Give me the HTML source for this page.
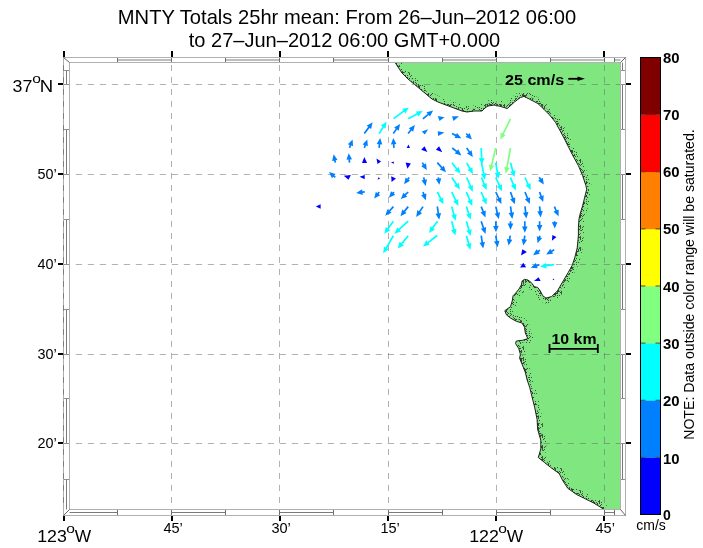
<!DOCTYPE html>
<html><head><meta charset="utf-8"><style>
html,body{margin:0;padding:0;background:#fff;width:703px;height:548px;overflow:hidden}
svg{display:block;will-change:transform}
</style></head><body>
<svg width="703" height="548" viewBox="0 0 703 548">
<defs><pattern id="d1" width="17" height="13" patternUnits="userSpaceOnUse"><rect x="1" y="0" width="1" height="1" fill="#3c3c3c"/><rect x="3" y="0" width="1" height="1" fill="#3c3c3c"/><rect x="6" y="0" width="1" height="1" fill="#3c3c3c"/><rect x="8" y="0" width="1" height="1" fill="#3c3c3c"/><rect x="10" y="0" width="1" height="1" fill="#3c3c3c"/><rect x="11" y="0" width="1" height="1" fill="#3c3c3c"/><rect x="14" y="0" width="1" height="1" fill="#3c3c3c"/><rect x="4" y="1" width="1" height="1" fill="#3c3c3c"/><rect x="7" y="1" width="1" height="1" fill="#3c3c3c"/><rect x="8" y="1" width="1" height="1" fill="#3c3c3c"/><rect x="11" y="1" width="1" height="1" fill="#3c3c3c"/><rect x="16" y="1" width="1" height="1" fill="#3c3c3c"/><rect x="0" y="2" width="1" height="1" fill="#3c3c3c"/><rect x="0" y="3" width="1" height="1" fill="#3c3c3c"/><rect x="3" y="3" width="1" height="1" fill="#3c3c3c"/><rect x="5" y="3" width="1" height="1" fill="#3c3c3c"/><rect x="2" y="4" width="1" height="1" fill="#3c3c3c"/><rect x="10" y="4" width="1" height="1" fill="#3c3c3c"/><rect x="12" y="4" width="1" height="1" fill="#3c3c3c"/><rect x="13" y="4" width="1" height="1" fill="#3c3c3c"/><rect x="14" y="4" width="1" height="1" fill="#3c3c3c"/><rect x="16" y="4" width="1" height="1" fill="#3c3c3c"/><rect x="3" y="5" width="1" height="1" fill="#3c3c3c"/><rect x="14" y="5" width="1" height="1" fill="#3c3c3c"/><rect x="15" y="5" width="1" height="1" fill="#3c3c3c"/><rect x="4" y="6" width="1" height="1" fill="#3c3c3c"/><rect x="13" y="6" width="1" height="1" fill="#3c3c3c"/><rect x="3" y="7" width="1" height="1" fill="#3c3c3c"/><rect x="5" y="7" width="1" height="1" fill="#3c3c3c"/><rect x="6" y="7" width="1" height="1" fill="#3c3c3c"/><rect x="8" y="7" width="1" height="1" fill="#3c3c3c"/><rect x="10" y="7" width="1" height="1" fill="#3c3c3c"/><rect x="11" y="7" width="1" height="1" fill="#3c3c3c"/><rect x="12" y="7" width="1" height="1" fill="#3c3c3c"/><rect x="13" y="7" width="1" height="1" fill="#3c3c3c"/><rect x="15" y="7" width="1" height="1" fill="#3c3c3c"/><rect x="1" y="8" width="1" height="1" fill="#3c3c3c"/><rect x="5" y="8" width="1" height="1" fill="#3c3c3c"/><rect x="10" y="8" width="1" height="1" fill="#3c3c3c"/><rect x="11" y="8" width="1" height="1" fill="#3c3c3c"/><rect x="15" y="8" width="1" height="1" fill="#3c3c3c"/><rect x="16" y="8" width="1" height="1" fill="#3c3c3c"/><rect x="2" y="9" width="1" height="1" fill="#3c3c3c"/><rect x="4" y="9" width="1" height="1" fill="#3c3c3c"/><rect x="11" y="9" width="1" height="1" fill="#3c3c3c"/><rect x="9" y="10" width="1" height="1" fill="#3c3c3c"/><rect x="10" y="10" width="1" height="1" fill="#3c3c3c"/><rect x="5" y="11" width="1" height="1" fill="#3c3c3c"/><rect x="13" y="11" width="1" height="1" fill="#3c3c3c"/><rect x="2" y="12" width="1" height="1" fill="#3c3c3c"/><rect x="11" y="12" width="1" height="1" fill="#3c3c3c"/><rect x="12" y="12" width="1" height="1" fill="#3c3c3c"/><rect x="13" y="12" width="1" height="1" fill="#3c3c3c"/><rect x="16" y="12" width="1" height="1" fill="#3c3c3c"/></pattern><pattern id="d2" width="19" height="11" patternUnits="userSpaceOnUse"><rect x="6" y="0" width="1" height="1" fill="#4a4a4a"/><rect x="13" y="1" width="1" height="1" fill="#4a4a4a"/><rect x="16" y="1" width="1" height="1" fill="#4a4a4a"/><rect x="7" y="2" width="1" height="1" fill="#4a4a4a"/><rect x="16" y="3" width="1" height="1" fill="#4a4a4a"/><rect x="18" y="3" width="1" height="1" fill="#4a4a4a"/><rect x="3" y="5" width="1" height="1" fill="#4a4a4a"/><rect x="6" y="5" width="1" height="1" fill="#4a4a4a"/><rect x="10" y="5" width="1" height="1" fill="#4a4a4a"/><rect x="14" y="5" width="1" height="1" fill="#4a4a4a"/><rect x="16" y="5" width="1" height="1" fill="#4a4a4a"/><rect x="9" y="6" width="1" height="1" fill="#4a4a4a"/><rect x="10" y="6" width="1" height="1" fill="#4a4a4a"/><rect x="13" y="6" width="1" height="1" fill="#4a4a4a"/><rect x="17" y="6" width="1" height="1" fill="#4a4a4a"/><rect x="0" y="7" width="1" height="1" fill="#4a4a4a"/><rect x="10" y="7" width="1" height="1" fill="#4a4a4a"/><rect x="12" y="7" width="1" height="1" fill="#4a4a4a"/><rect x="2" y="8" width="1" height="1" fill="#4a4a4a"/><rect x="4" y="8" width="1" height="1" fill="#4a4a4a"/><rect x="10" y="8" width="1" height="1" fill="#4a4a4a"/><rect x="6" y="9" width="1" height="1" fill="#4a4a4a"/><rect x="8" y="9" width="1" height="1" fill="#4a4a4a"/><rect x="12" y="9" width="1" height="1" fill="#4a4a4a"/><rect x="11" y="10" width="1" height="1" fill="#4a4a4a"/><rect x="17" y="10" width="1" height="1" fill="#4a4a4a"/></pattern><clipPath id="landclip"><polygon points="395.0,62.5 395.0,62.4 398.0,67.0 402.0,73.0 408.0,79.0 414.0,84.0 420.0,89.0 426.0,94.0 432.0,99.0 438.0,102.0 446.0,105.0 454.0,108.0 462.0,111.0 467.0,112.0 474.0,111.0 482.0,111.0 485.0,108.0 488.0,106.0 494.0,105.0 500.0,106.3 507.3,108.5 514.6,101.9 520.4,97.5 524.0,96.4 529.2,99.0 538.0,103.6 543.8,109.2 549.6,115.0 555.5,122.3 559.9,130.4 564.2,138.4 568.6,147.2 573.0,155.9 578.4,165.6 582.6,175.5 585.8,185.3 586.7,189.4 585.0,196.0 582.6,205.8 580.1,214.0 579.0,219.0 578.4,227.2 578.4,235.0 578.0,239.9 577.2,248.0 574.7,257.9 572.2,265.3 568.1,272.7 563.2,280.9 557.5,290.8 551.7,296.5 546.0,298.1 542.7,295.7 540.2,290.8 537.8,287.5 534.5,286.7 531.2,282.5 527.9,280.0 524.6,279.3 522.2,280.9 521.3,285.0 518.9,289.1 515.6,293.2 513.1,295.7 512.3,300.6 510.5,306.6 504.8,310.7 506.4,314.8 510.5,318.1 516.3,321.3 522.0,323.0 524.5,327.1 525.3,332.8 527.8,338.6 522.8,340.2 516.3,341.0 515.5,343.5 518.7,348.4 520.4,354.2 519.6,358.3 522.0,364.0 525.3,372.3 527.2,380.0 529.7,387.4 532.1,397.2 534.6,407.1 537.1,419.4 537.6,429.2 540.8,440.3 540.8,448.9 538.3,457.5 544.4,462.4 550.6,467.4 559.2,473.5 562.9,480.9 567.8,488.3 576.4,494.4 583.8,498.1 593.7,503.0 601.0,507.5 603.5,509.5 620.5,509.5 620.5,62.5"/></clipPath></defs>
<rect width="703" height="548" fill="#fff"/>
<polygon points="395.0,62.5 395.0,62.4 398.0,67.0 402.0,73.0 408.0,79.0 414.0,84.0 420.0,89.0 426.0,94.0 432.0,99.0 438.0,102.0 446.0,105.0 454.0,108.0 462.0,111.0 467.0,112.0 474.0,111.0 482.0,111.0 485.0,108.0 488.0,106.0 494.0,105.0 500.0,106.3 507.3,108.5 514.6,101.9 520.4,97.5 524.0,96.4 529.2,99.0 538.0,103.6 543.8,109.2 549.6,115.0 555.5,122.3 559.9,130.4 564.2,138.4 568.6,147.2 573.0,155.9 578.4,165.6 582.6,175.5 585.8,185.3 586.7,189.4 585.0,196.0 582.6,205.8 580.1,214.0 579.0,219.0 578.4,227.2 578.4,235.0 578.0,239.9 577.2,248.0 574.7,257.9 572.2,265.3 568.1,272.7 563.2,280.9 557.5,290.8 551.7,296.5 546.0,298.1 542.7,295.7 540.2,290.8 537.8,287.5 534.5,286.7 531.2,282.5 527.9,280.0 524.6,279.3 522.2,280.9 521.3,285.0 518.9,289.1 515.6,293.2 513.1,295.7 512.3,300.6 510.5,306.6 504.8,310.7 506.4,314.8 510.5,318.1 516.3,321.3 522.0,323.0 524.5,327.1 525.3,332.8 527.8,338.6 522.8,340.2 516.3,341.0 515.5,343.5 518.7,348.4 520.4,354.2 519.6,358.3 522.0,364.0 525.3,372.3 527.2,380.0 529.7,387.4 532.1,397.2 534.6,407.1 537.1,419.4 537.6,429.2 540.8,440.3 540.8,448.9 538.3,457.5 544.4,462.4 550.6,467.4 559.2,473.5 562.9,480.9 567.8,488.3 576.4,494.4 583.8,498.1 593.7,503.0 601.0,507.5 603.5,509.5 620.5,509.5 620.5,62.5" fill="#80e680" stroke="none"/>
<g clip-path="url(#landclip)"><polyline points="395.0,62.4 398.0,67.0 402.0,73.0 408.0,79.0 414.0,84.0 420.0,89.0 426.0,94.0 432.0,99.0 438.0,102.0 446.0,105.0 454.0,108.0 462.0,111.0 467.0,112.0 474.0,111.0 482.0,111.0 485.0,108.0 488.0,106.0 494.0,105.0 500.0,106.3 507.3,108.5 514.6,101.9 520.4,97.5 524.0,96.4 529.2,99.0 538.0,103.6 543.8,109.2 549.6,115.0 555.5,122.3 559.9,130.4 564.2,138.4 568.6,147.2 573.0,155.9 578.4,165.6 582.6,175.5 585.8,185.3 586.7,189.4 585.0,196.0 582.6,205.8 580.1,214.0 579.0,219.0 578.4,227.2 578.4,235.0 578.0,239.9 577.2,248.0 574.7,257.9 572.2,265.3 568.1,272.7 563.2,280.9 557.5,290.8 551.7,296.5 546.0,298.1 542.7,295.7 540.2,290.8 537.8,287.5 534.5,286.7 531.2,282.5 527.9,280.0 524.6,279.3 522.2,280.9 521.3,285.0 518.9,289.1 515.6,293.2 513.1,295.7 512.3,300.6 510.5,306.6 504.8,310.7 506.4,314.8 510.5,318.1 516.3,321.3 522.0,323.0 524.5,327.1 525.3,332.8 527.8,338.6 522.8,340.2 516.3,341.0 515.5,343.5 518.7,348.4 520.4,354.2 519.6,358.3 522.0,364.0 525.3,372.3 527.2,380.0 529.7,387.4 532.1,397.2 534.6,407.1 537.1,419.4 537.6,429.2 540.8,440.3 540.8,448.9 538.3,457.5 544.4,462.4 550.6,467.4 559.2,473.5 562.9,480.9 567.8,488.3 576.4,494.4 583.8,498.1 593.7,503.0 601.0,507.5 603.5,509.5" fill="none" stroke="url(#d2)" stroke-width="11" stroke-linejoin="round"/>
<polyline points="395.0,62.4 398.0,67.0 402.0,73.0 408.0,79.0 414.0,84.0 420.0,89.0 426.0,94.0 432.0,99.0 438.0,102.0 446.0,105.0 454.0,108.0 462.0,111.0 467.0,112.0 474.0,111.0 482.0,111.0 485.0,108.0 488.0,106.0 494.0,105.0 500.0,106.3 507.3,108.5 514.6,101.9 520.4,97.5 524.0,96.4 529.2,99.0 538.0,103.6 543.8,109.2 549.6,115.0 555.5,122.3 559.9,130.4 564.2,138.4 568.6,147.2 573.0,155.9 578.4,165.6 582.6,175.5 585.8,185.3 586.7,189.4 585.0,196.0 582.6,205.8 580.1,214.0 579.0,219.0 578.4,227.2 578.4,235.0 578.0,239.9 577.2,248.0 574.7,257.9 572.2,265.3 568.1,272.7 563.2,280.9 557.5,290.8 551.7,296.5 546.0,298.1 542.7,295.7 540.2,290.8 537.8,287.5 534.5,286.7 531.2,282.5 527.9,280.0 524.6,279.3 522.2,280.9 521.3,285.0 518.9,289.1 515.6,293.2 513.1,295.7 512.3,300.6 510.5,306.6 504.8,310.7 506.4,314.8 510.5,318.1 516.3,321.3 522.0,323.0 524.5,327.1 525.3,332.8 527.8,338.6 522.8,340.2 516.3,341.0 515.5,343.5 518.7,348.4 520.4,354.2 519.6,358.3 522.0,364.0 525.3,372.3 527.2,380.0 529.7,387.4 532.1,397.2 534.6,407.1 537.1,419.4 537.6,429.2 540.8,440.3 540.8,448.9 538.3,457.5 544.4,462.4 550.6,467.4 559.2,473.5 562.9,480.9 567.8,488.3 576.4,494.4 583.8,498.1 593.7,503.0 601.0,507.5 603.5,509.5" fill="none" stroke="url(#d1)" stroke-width="4.5" stroke-linejoin="round"/></g>
<polyline points="395.0,62.4 398.0,67.0 402.0,73.0 408.0,79.0 414.0,84.0 420.0,89.0 426.0,94.0 432.0,99.0 438.0,102.0 446.0,105.0 454.0,108.0 462.0,111.0 467.0,112.0 474.0,111.0 482.0,111.0 485.0,108.0 488.0,106.0 494.0,105.0 500.0,106.3 507.3,108.5 514.6,101.9 520.4,97.5 524.0,96.4 529.2,99.0 538.0,103.6 543.8,109.2 549.6,115.0 555.5,122.3 559.9,130.4 564.2,138.4 568.6,147.2 573.0,155.9 578.4,165.6 582.6,175.5 585.8,185.3 586.7,189.4 585.0,196.0 582.6,205.8 580.1,214.0 579.0,219.0 578.4,227.2 578.4,235.0 578.0,239.9 577.2,248.0 574.7,257.9 572.2,265.3 568.1,272.7 563.2,280.9 557.5,290.8 551.7,296.5 546.0,298.1 542.7,295.7 540.2,290.8 537.8,287.5 534.5,286.7 531.2,282.5 527.9,280.0 524.6,279.3 522.2,280.9 521.3,285.0 518.9,289.1 515.6,293.2 513.1,295.7 512.3,300.6 510.5,306.6 504.8,310.7 506.4,314.8 510.5,318.1 516.3,321.3 522.0,323.0 524.5,327.1 525.3,332.8 527.8,338.6 522.8,340.2 516.3,341.0 515.5,343.5 518.7,348.4 520.4,354.2 519.6,358.3 522.0,364.0 525.3,372.3 527.2,380.0 529.7,387.4 532.1,397.2 534.6,407.1 537.1,419.4 537.6,429.2 540.8,440.3 540.8,448.9 538.3,457.5 544.4,462.4 550.6,467.4 559.2,473.5 562.9,480.9 567.8,488.3 576.4,494.4 583.8,498.1 593.7,503.0 601.0,507.5 603.5,509.5" fill="none" stroke="#222" stroke-width="1" stroke-linejoin="round"/>
<line x1="171.5" y1="63.0" x2="171.5" y2="509.0" stroke="#666" stroke-opacity="0.5" stroke-width="1" stroke-dasharray="6.1 5.9" stroke-dashoffset="-1.90"/>
<line x1="279.5" y1="63.0" x2="279.5" y2="509.0" stroke="#666" stroke-opacity="0.5" stroke-width="1" stroke-dasharray="6.1 5.9" stroke-dashoffset="-1.90"/>
<line x1="388.5" y1="63.0" x2="388.5" y2="509.0" stroke="#666" stroke-opacity="0.5" stroke-width="1" stroke-dasharray="6.1 5.9" stroke-dashoffset="-1.90"/>
<line x1="496.5" y1="63.0" x2="496.5" y2="509.0" stroke="#666" stroke-opacity="0.5" stroke-width="1" stroke-dasharray="6.1 5.9" stroke-dashoffset="-1.90"/>
<line x1="604.5" y1="63.0" x2="604.5" y2="509.0" stroke="#666" stroke-opacity="0.5" stroke-width="1" stroke-dasharray="6.1 5.9" stroke-dashoffset="-1.90"/>
<line x1="70.0" y1="84.5" x2="620.0" y2="84.5" stroke="#666" stroke-opacity="0.5" stroke-width="1" stroke-dasharray="6.2 5.8" stroke-dashoffset="-5.80"/>
<line x1="70.0" y1="174.5" x2="620.0" y2="174.5" stroke="#666" stroke-opacity="0.5" stroke-width="1" stroke-dasharray="6.2 5.8" stroke-dashoffset="-5.80"/>
<line x1="70.0" y1="264.5" x2="620.0" y2="264.5" stroke="#666" stroke-opacity="0.5" stroke-width="1" stroke-dasharray="6.2 5.8" stroke-dashoffset="-5.80"/>
<line x1="70.0" y1="354.5" x2="620.0" y2="354.5" stroke="#666" stroke-opacity="0.5" stroke-width="1" stroke-dasharray="6.2 5.8" stroke-dashoffset="-5.80"/>
<line x1="70.0" y1="443.5" x2="620.0" y2="443.5" stroke="#666" stroke-opacity="0.5" stroke-width="1" stroke-dasharray="6.2 5.8" stroke-dashoffset="-5.80"/>
<path d="M394.21 119.28L404.25 111.84L405.41 113.40L408.80 107.40L402.07 108.90L403.23 110.47L393.19 117.92Z" fill="#00ffff"/>
<path d="M408.60 119.55L417.53 114.81L418.45 116.53L422.70 111.10L415.82 111.58L416.74 113.30L407.80 118.05Z" fill="#00ffff"/>
<path d="M423.44 119.55L428.80 115.09L430.05 116.58L433.10 110.40L426.47 112.28L427.72 113.78L422.36 118.25Z" fill="#0080ff"/>
<path d="M509.74 118.52L502.32 133.57L500.57 132.71L500.30 139.60L505.60 135.19L503.85 134.32L511.26 119.28Z" fill="#80ff80"/>
<path d="M364.99 134.10L369.56 127.88L371.13 129.04L372.60 122.30L366.61 125.72L368.19 126.87L363.61 133.10Z" fill="#0080ff"/>
<path d="M379.82 134.15L383.92 127.51L385.58 128.53L386.50 121.70L380.81 125.59L382.47 126.62L378.38 133.25Z" fill="#00ffff"/>
<path d="M393.99 133.99L397.12 129.62L398.71 130.75L400.10 124.00L394.16 127.49L395.74 128.63L392.61 133.01Z" fill="#0080ff"/>
<path d="M408.76 134.03L411.60 130.53L413.11 131.76L414.90 125.10L408.76 128.23L410.28 129.46L407.44 132.97Z" fill="#0080ff"/>
<path d="M451.62 134.26L455.38 136.14L454.51 137.89L461.40 138.20L457.02 132.88L456.15 134.62L452.38 132.74Z" fill="#0080ff"/>
<path d="M465.58 134.08L466.98 135.58L465.55 136.91L471.90 139.60L469.64 133.09L468.22 134.42L466.82 132.92Z" fill="#0080ff"/>
<path d="M350.30 148.19L351.24 145.61L353.07 146.28L352.60 139.40L347.81 144.36L349.64 145.03L348.70 147.61Z" fill="#0080ff"/>
<path d="M365.10 148.18L366.00 145.62L367.84 146.27L367.30 139.40L362.56 144.41L364.40 145.06L363.50 147.62Z" fill="#0080ff"/>
<path d="M379.94 147.99L380.35 144.36L382.29 144.57L380.20 138.00L376.72 143.95L378.66 144.17L378.26 147.81Z" fill="#0080ff"/>
<path d="M394.75 147.85L394.53 144.24L396.48 144.12L393.30 138.00L390.89 144.46L392.83 144.34L393.05 147.95Z" fill="#0080ff"/>
<path d="M451.76 148.66L455.98 152.08L454.75 153.60L461.40 155.40L458.28 149.25L457.05 150.77L452.84 147.34Z" fill="#0080ff"/>
<path d="M465.99 148.47L468.59 152.34L466.97 153.43L472.80 157.10L471.62 150.31L470.00 151.39L467.41 147.53Z" fill="#0080ff"/>
<path d="M480.35 148.04L480.78 158.24L478.84 158.32L481.90 164.50L484.43 158.09L482.48 158.17L482.05 147.96Z" fill="#00ffff"/>
<path d="M494.87 147.80L490.75 164.98L488.85 164.52L490.10 171.30L494.29 165.83L492.40 165.37L496.53 148.20Z" fill="#80ff80"/>
<path d="M509.66 147.85L506.10 167.25L504.18 166.90L505.80 173.60L509.69 167.91L507.77 167.56L511.34 148.15Z" fill="#80ff80"/>
<path d="M336.13 162.43L335.70 160.30L337.61 159.91L333.60 154.30L332.12 161.03L334.03 160.64L334.47 162.77Z" fill="#0080ff"/>
<path d="M350.35 162.53L350.08 159.41L352.02 159.24L348.70 153.20L346.44 159.71L348.39 159.55L348.65 162.67Z" fill="#0080ff"/>
<path d="M421.58 163.05L422.85 165.10L421.20 166.13L426.90 170.00L425.95 163.17L424.30 164.20L423.02 162.15Z" fill="#0080ff"/>
<path d="M436.67 163.17L441.16 168.18L439.71 169.48L446.00 172.30L443.88 165.74L442.43 167.04L437.93 162.03Z" fill="#0080ff"/>
<path d="M451.24 163.33L455.91 169.20L454.39 170.42L460.50 173.60L458.77 166.93L457.24 168.14L452.56 162.27Z" fill="#00ffff"/>
<path d="M465.96 163.21L469.19 169.01L467.49 169.96L473.00 174.10L472.38 167.23L470.67 168.18L467.44 162.39Z" fill="#00ffff"/>
<path d="M480.67 162.76L482.84 173.78L480.93 174.16L484.90 179.80L486.43 173.08L484.51 173.45L482.33 162.44Z" fill="#00ffff"/>
<path d="M494.86 162.95L496.63 172.65L494.72 173.00L498.60 178.70L500.22 172.00L498.31 172.35L496.54 162.65Z" fill="#00ffff"/>
<path d="M509.68 163.03L511.97 171.17L510.10 171.70L514.50 177.00L515.49 170.18L513.61 170.71L511.32 162.57Z" fill="#00ffff"/>
<path d="M335.85 176.75L334.34 175.45L335.61 173.97L329.00 172.00L331.96 178.23L333.23 176.75L334.75 178.05Z" fill="#0080ff"/>
<path d="M408.52 176.89L407.20 178.65L405.64 177.48L404.10 184.20L410.12 180.84L408.56 179.67L409.88 177.91Z" fill="#0080ff"/>
<path d="M422.87 177.59L423.45 180.06L421.55 180.50L425.70 186.00L427.00 179.23L425.10 179.67L424.53 177.21Z" fill="#0080ff"/>
<path d="M437.46 177.52L437.63 178.69L435.70 178.98L439.40 184.80L441.24 178.16L439.31 178.44L439.14 177.28Z" fill="#0080ff"/>
<path d="M451.19 177.97L455.70 184.73L454.08 185.81L459.90 189.50L458.74 182.70L457.11 183.79L452.61 177.03Z" fill="#00ffff"/>
<path d="M465.92 177.83L469.55 186.34L467.75 187.10L472.80 191.80L472.90 184.91L471.11 185.67L467.48 177.17Z" fill="#00ffff"/>
<path d="M480.71 177.82L483.43 184.49L481.63 185.22L486.60 190.00L486.81 183.11L485.01 183.85L482.29 177.18Z" fill="#00ffff"/>
<path d="M494.93 177.86L498.60 185.83L496.82 186.65L502.00 191.20L501.91 184.31L500.14 185.12L496.47 177.14Z" fill="#00ffff"/>
<path d="M509.71 177.82L512.65 185.08L510.84 185.81L515.80 190.60L516.03 183.71L514.23 184.44L511.29 177.18Z" fill="#00ffff"/>
<path d="M524.23 177.85L527.31 184.62L525.54 185.43L530.70 190.00L530.63 183.11L528.86 183.92L525.77 177.15Z" fill="#00ffff"/>
<path d="M538.48 177.75L539.72 179.72L538.07 180.76L543.80 184.60L542.81 177.78L541.16 178.82L539.92 176.85Z" fill="#0080ff"/>
<path d="M364.69 190.96L362.34 191.26L362.09 189.32L356.20 192.90L362.80 194.88L362.56 192.94L364.91 192.64Z" fill="#0080ff"/>
<path d="M378.52 191.49L377.33 193.07L375.77 191.89L374.20 198.60L380.24 195.27L378.68 194.09L379.88 192.51Z" fill="#0080ff"/>
<path d="M393.37 191.43L392.47 192.44L391.01 191.14L388.90 197.70L395.19 194.87L393.73 193.57L394.63 192.57Z" fill="#0080ff"/>
<path d="M407.61 191.39L404.76 194.12L403.41 192.72L400.80 199.10L407.28 196.76L405.93 195.35L408.79 192.61Z" fill="#0080ff"/>
<path d="M422.19 192.27L422.98 194.60L421.13 195.23L425.80 200.30L426.44 193.44L424.59 194.06L423.81 191.73Z" fill="#0080ff"/>
<path d="M436.64 192.38L439.94 199.03L438.19 199.90L443.50 204.30L443.21 197.41L441.46 198.28L438.16 191.62Z" fill="#00ffff"/>
<path d="M451.03 192.36L454.94 200.66L453.18 201.50L458.40 206.00L458.25 199.11L456.48 199.94L452.57 191.64Z" fill="#00ffff"/>
<path d="M465.62 192.33L469.07 200.52L467.27 201.28L472.30 206.00L472.43 199.11L470.64 199.86L467.18 191.67Z" fill="#00ffff"/>
<path d="M480.42 192.34L483.40 199.17L481.61 199.95L486.70 204.60L486.75 197.71L484.96 198.49L481.98 191.66Z" fill="#00ffff"/>
<path d="M495.03 192.36L497.98 198.74L496.21 199.56L501.40 204.10L501.29 197.21L499.53 198.03L496.57 191.64Z" fill="#0080ff"/>
<path d="M509.70 192.28L511.92 198.63L510.08 199.28L514.80 204.30L515.36 197.43L513.52 198.07L511.30 191.72Z" fill="#0080ff"/>
<path d="M524.21 192.31L526.69 198.56L524.87 199.28L529.80 204.10L530.08 197.21L528.27 197.93L525.79 191.69Z" fill="#0080ff"/>
<path d="M538.80 192.29L540.28 196.45L538.45 197.11L543.20 202.10L543.72 195.23L541.89 195.88L540.40 191.71Z" fill="#0080ff"/>
<path d="M392.77 206.03L388.85 210.43L387.40 209.13L385.30 215.70L391.58 212.86L390.12 211.56L394.03 207.17Z" fill="#0080ff"/>
<path d="M407.53 206.07L403.75 210.84L402.22 209.62L400.50 216.30L406.61 213.11L405.08 211.89L408.87 207.13Z" fill="#0080ff"/>
<path d="M422.29 206.13L418.96 211.17L417.33 210.10L416.20 216.90L422.01 213.19L420.38 212.11L423.71 207.07Z" fill="#0080ff"/>
<path d="M436.46 206.62L437.46 213.59L435.53 213.86L439.20 219.70L441.07 213.07L439.14 213.34L438.14 206.38Z" fill="#0080ff"/>
<path d="M450.98 206.82L453.15 214.93L451.27 215.44L455.60 220.80L456.68 213.99L454.79 214.49L452.62 206.38Z" fill="#00ffff"/>
<path d="M465.59 206.87L467.93 213.98L466.07 214.59L470.70 219.70L471.40 212.84L469.54 213.45L467.21 206.33Z" fill="#00ffff"/>
<path d="M480.41 206.91L482.38 211.86L480.57 212.58L485.50 217.40L485.77 210.51L483.96 211.23L481.99 206.29Z" fill="#0080ff"/>
<path d="M494.97 206.80L496.50 213.17L494.61 213.63L498.80 219.10L500.05 212.32L498.16 212.78L496.63 206.40Z" fill="#0080ff"/>
<path d="M509.66 206.52L510.56 212.79L508.63 213.06L512.30 218.90L514.17 212.27L512.24 212.54L511.34 206.28Z" fill="#0080ff"/>
<path d="M524.16 206.50L524.84 212.44L522.90 212.66L526.40 218.60L528.46 212.02L526.53 212.24L525.84 206.30Z" fill="#0080ff"/>
<path d="M538.75 206.48L539.23 211.22L537.29 211.41L540.70 217.40L542.86 210.85L540.92 211.05L540.45 206.32Z" fill="#0080ff"/>
<path d="M553.62 206.94L555.32 210.86L553.53 211.63L558.60 216.30L558.67 209.41L556.88 210.18L555.18 206.26Z" fill="#0080ff"/>
<path d="M392.71 220.70L387.32 228.11L385.74 226.96L384.30 233.70L390.27 230.25L388.70 229.11L394.09 221.70Z" fill="#00ffff"/>
<path d="M407.63 220.57L398.50 228.84L397.19 227.40L394.40 233.70L400.95 231.55L399.64 230.10L408.77 221.83Z" fill="#00ffff"/>
<path d="M436.81 220.70L432.02 227.30L430.44 226.16L429.00 232.90L434.97 229.45L433.39 228.30L438.19 221.70Z" fill="#00ffff"/>
<path d="M450.97 221.40L452.99 229.68L451.09 230.14L455.30 235.60L456.53 228.82L454.64 229.28L452.63 221.00Z" fill="#00ffff"/>
<path d="M465.58 221.44L468.13 230.19L466.25 230.73L470.70 236.00L471.63 229.17L469.76 229.71L467.22 220.96Z" fill="#00ffff"/>
<path d="M480.39 221.47L482.67 228.21L480.83 228.83L485.50 233.90L486.13 227.03L484.28 227.66L482.01 220.93Z" fill="#0080ff"/>
<path d="M494.95 221.22L495.04 225.92L493.09 225.95L496.00 232.20L498.69 225.85L496.74 225.89L496.65 221.18Z" fill="#0080ff"/>
<path d="M509.65 221.20L509.65 223.60L507.70 223.60L510.50 229.90L513.30 223.60L511.35 223.60L511.35 221.20Z" fill="#0080ff"/>
<path d="M523.95 221.20L523.95 226.50L522.00 226.50L524.80 232.80L527.60 226.50L525.65 226.50L525.65 221.20Z" fill="#0080ff"/>
<path d="M538.75 221.20L538.75 225.10L536.80 225.10L539.60 231.40L542.40 225.10L540.45 225.10L540.45 221.20Z" fill="#0080ff"/>
<path d="M553.75 221.22L553.78 222.23L551.83 222.28L554.80 228.50L557.43 222.13L555.48 222.18L555.45 221.18Z" fill="#0080ff"/>
<path d="M392.66 235.27L385.62 247.42L383.94 246.45L383.20 253.30L388.78 249.25L387.09 248.28L394.14 236.13Z" fill="#00ffff"/>
<path d="M407.54 235.16L401.11 243.07L399.60 241.84L397.80 248.50L403.95 245.38L402.43 244.15L408.86 236.24Z" fill="#00ffff"/>
<path d="M436.68 234.83L427.48 241.89L426.29 240.34L423.00 246.40L429.70 244.79L428.52 243.24L437.72 236.17Z" fill="#00ffff"/>
<path d="M465.58 235.93L467.86 243.97L465.99 244.50L470.40 249.80L471.37 242.97L469.50 243.51L467.22 235.47Z" fill="#00ffff"/>
<path d="M480.36 235.83L481.39 242.41L479.46 242.71L483.20 248.50L484.99 241.84L483.07 242.14L482.04 235.57Z" fill="#0080ff"/>
<path d="M494.96 235.84L495.84 241.22L493.92 241.54L497.70 247.30L499.44 240.63L497.52 240.95L496.64 235.56Z" fill="#0080ff"/>
<path d="M509.36 235.56L508.77 239.25L506.84 238.93L508.60 245.60L512.37 239.83L510.44 239.52L511.04 235.84Z" fill="#0080ff"/>
<path d="M523.96 235.58L523.44 239.24L521.51 238.97L523.40 245.60L527.05 239.75L525.12 239.48L525.64 235.82Z" fill="#0080ff"/>
<path d="M539.09 235.45L538.63 236.93L536.77 236.36L537.60 243.20L542.12 238.00L540.26 237.43L540.71 235.95Z" fill="#0080ff"/>
<path d="M539.39 249.52L537.63 250.84L536.46 249.28L533.10 255.30L539.82 253.76L538.65 252.20L540.41 250.88Z" fill="#0080ff"/>
<path d="M553.78 249.06L551.24 250.52L550.27 248.83L546.20 254.40L553.06 253.69L552.09 252.00L554.62 250.54Z" fill="#0080ff"/>
<path d="M539.10 263.80L536.41 264.81L535.73 262.98L530.80 267.80L537.68 268.23L537.00 266.40L539.70 265.40Z" fill="#0080ff"/>
<path d="M554.09 263.76L546.13 264.82L545.87 262.89L540.00 266.50L546.62 268.44L546.36 266.51L554.31 265.44Z" fill="#00ffff"/>
<path d="M444.50 117.20L437.80 116.10L439.50 121.10Z" fill="#0080ff"/>
<path d="M459.00 116.30L452.10 116.20L453.50 121.00Z" fill="#0080ff"/>
<path d="M428.10 129.30L421.80 131.50L424.80 134.60Z" fill="#0080ff"/>
<path d="M444.50 132.40L437.80 131.20L438.10 135.90Z" fill="#0080ff"/>
<path d="M408.40 144.40L406.70 147.90L410.00 147.90Z" fill="#0000ff"/>
<path d="M424.50 146.20L421.20 149.70L427.40 152.10Z" fill="#0000ff"/>
<path d="M439.10 146.20L435.90 149.70L442.30 152.20Z" fill="#0000ff"/>
<path d="M364.30 157.10L362.00 163.10L367.10 162.90Z" fill="#0000ff"/>
<path d="M381.10 161.60L376.50 158.40L377.50 163.90Z" fill="#0000ff"/>
<path d="M390.90 162.40L393.80 161.60L393.90 163.80Z" fill="#0000ff"/>
<path d="M407.40 168.70L405.60 162.50L410.90 163.40Z" fill="#0000ff"/>
<path d="M348.50 179.70L343.80 175.70L350.90 174.90Z" fill="#0000ff"/>
<path d="M359.60 176.70L364.70 174.90L364.70 179.30Z" fill="#0000ff"/>
<path d="M378.80 176.90L377.50 179.50L379.90 179.10Z" fill="#0000ff"/>
<path d="M395.90 178.60L391.20 176.30L391.60 181.90Z" fill="#0000ff"/>
<path d="M315.80 206.50L320.60 204.20L320.60 208.80Z" fill="#0000ff"/>
<path d="M556.50 236.90L552.40 235.10L551.90 240.70Z" fill="#0000ff"/>
<path d="M526.90 252.00L522.30 249.20L521.00 255.50Z" fill="#0000ff"/>
<path d="M523.30 262.70L520.00 267.60L526.10 267.30Z" fill="#0000ff"/>
<path d="M538.60 277.20L534.00 281.10L540.60 281.10Z" fill="#0000ff"/>
<path d="M553.90 278.60L552.60 279.90L554.20 280.00Z" fill="#0000ff"/>
<text x="505.00" y="84.50" font-family="Liberation Sans, Arial, sans-serif" font-size="14" font-weight="bold" textLength="59.10" lengthAdjust="spacingAndGlyphs">25 cm/s</text>
<line x1="568.3" y1="78.8" x2="580" y2="78.8" stroke="#000" stroke-width="1.8"/>
<path d="M585 78.8 L577.5 76.6 L577.5 81 Z" fill="#000"/>
<text x="551.50" y="344.40" font-family="Liberation Sans, Arial, sans-serif" font-size="14" font-weight="bold" textLength="45.00" lengthAdjust="spacingAndGlyphs">10 km</text>
<path d="M549.5 344 V353 M549.5 348.8 H597.8 M597.8 344 V353" stroke="#000" stroke-width="1.8" fill="none"/>
<path d="M63 57H626V516H63Z M70 63V509H620V63Z" fill="#fff" fill-rule="evenodd"/>
<line x1="69.5" y1="512.5" x2="117.5" y2="512.5" stroke="#7a7a7a" stroke-width="1"/>
<line x1="117.5" y1="60" x2="171.5" y2="60" stroke="#7a7a7a" stroke-width="1"/>
<line x1="171.5" y1="512.5" x2="225.5" y2="512.5" stroke="#7a7a7a" stroke-width="1"/>
<line x1="225.5" y1="60" x2="279.5" y2="60" stroke="#7a7a7a" stroke-width="1"/>
<line x1="279.5" y1="512.5" x2="333.5" y2="512.5" stroke="#7a7a7a" stroke-width="1"/>
<line x1="333.5" y1="60" x2="388.5" y2="60" stroke="#7a7a7a" stroke-width="1"/>
<line x1="388.5" y1="512.5" x2="442.5" y2="512.5" stroke="#7a7a7a" stroke-width="1"/>
<line x1="442.5" y1="60" x2="496.5" y2="60" stroke="#7a7a7a" stroke-width="1"/>
<line x1="496.5" y1="512.5" x2="550.5" y2="512.5" stroke="#7a7a7a" stroke-width="1"/>
<line x1="550.5" y1="60" x2="604.5" y2="60" stroke="#7a7a7a" stroke-width="1"/>
<line x1="604.5" y1="512.5" x2="614.5" y2="512.5" stroke="#7a7a7a" stroke-width="1"/>
<line x1="614.5" y1="60" x2="620.5" y2="60" stroke="#7a7a7a" stroke-width="1"/>
<line x1="117.5" y1="57" x2="117.5" y2="63" stroke="#6e6e6e" stroke-width="1"/>
<line x1="117.5" y1="509" x2="117.5" y2="516" stroke="#6e6e6e" stroke-width="1"/>
<line x1="171.5" y1="57" x2="171.5" y2="63" stroke="#6e6e6e" stroke-width="1"/>
<line x1="171.5" y1="509" x2="171.5" y2="516" stroke="#6e6e6e" stroke-width="1"/>
<line x1="225.5" y1="57" x2="225.5" y2="63" stroke="#6e6e6e" stroke-width="1"/>
<line x1="225.5" y1="509" x2="225.5" y2="516" stroke="#6e6e6e" stroke-width="1"/>
<line x1="279.5" y1="57" x2="279.5" y2="63" stroke="#6e6e6e" stroke-width="1"/>
<line x1="279.5" y1="509" x2="279.5" y2="516" stroke="#6e6e6e" stroke-width="1"/>
<line x1="333.5" y1="57" x2="333.5" y2="63" stroke="#6e6e6e" stroke-width="1"/>
<line x1="333.5" y1="509" x2="333.5" y2="516" stroke="#6e6e6e" stroke-width="1"/>
<line x1="388.5" y1="57" x2="388.5" y2="63" stroke="#6e6e6e" stroke-width="1"/>
<line x1="388.5" y1="509" x2="388.5" y2="516" stroke="#6e6e6e" stroke-width="1"/>
<line x1="442.5" y1="57" x2="442.5" y2="63" stroke="#6e6e6e" stroke-width="1"/>
<line x1="442.5" y1="509" x2="442.5" y2="516" stroke="#6e6e6e" stroke-width="1"/>
<line x1="496.5" y1="57" x2="496.5" y2="63" stroke="#6e6e6e" stroke-width="1"/>
<line x1="496.5" y1="509" x2="496.5" y2="516" stroke="#6e6e6e" stroke-width="1"/>
<line x1="550.5" y1="57" x2="550.5" y2="63" stroke="#6e6e6e" stroke-width="1"/>
<line x1="550.5" y1="509" x2="550.5" y2="516" stroke="#6e6e6e" stroke-width="1"/>
<line x1="604.5" y1="57" x2="604.5" y2="63" stroke="#6e6e6e" stroke-width="1"/>
<line x1="604.5" y1="509" x2="604.5" y2="516" stroke="#6e6e6e" stroke-width="1"/>
<line x1="614.5" y1="57" x2="614.5" y2="63" stroke="#6e6e6e" stroke-width="1"/>
<line x1="614.5" y1="509" x2="614.5" y2="516" stroke="#6e6e6e" stroke-width="1"/>
<line x1="622.5" y1="62.5" x2="622.5" y2="70.5" stroke="#7a7a7a" stroke-width="1"/>
<line x1="66.5" y1="70.5" x2="66.5" y2="84.5" stroke="#7a7a7a" stroke-width="1"/>
<line x1="622.5" y1="84.5" x2="622.5" y2="129.5" stroke="#7a7a7a" stroke-width="1"/>
<line x1="66.5" y1="129.5" x2="66.5" y2="174.5" stroke="#7a7a7a" stroke-width="1"/>
<line x1="622.5" y1="174.5" x2="622.5" y2="219.5" stroke="#7a7a7a" stroke-width="1"/>
<line x1="66.5" y1="219.5" x2="66.5" y2="264.5" stroke="#7a7a7a" stroke-width="1"/>
<line x1="622.5" y1="264.5" x2="622.5" y2="309.5" stroke="#7a7a7a" stroke-width="1"/>
<line x1="66.5" y1="309.5" x2="66.5" y2="354.5" stroke="#7a7a7a" stroke-width="1"/>
<line x1="622.5" y1="354.5" x2="622.5" y2="398.5" stroke="#7a7a7a" stroke-width="1"/>
<line x1="66.5" y1="398.5" x2="66.5" y2="443.5" stroke="#7a7a7a" stroke-width="1"/>
<line x1="622.5" y1="443.5" x2="622.5" y2="479.5" stroke="#7a7a7a" stroke-width="1"/>
<line x1="66.5" y1="479.5" x2="66.5" y2="509.5" stroke="#7a7a7a" stroke-width="1"/>
<line x1="63" y1="70.5" x2="70" y2="70.5" stroke="#8e8e8e" stroke-width="1"/>
<line x1="620" y1="70.5" x2="626" y2="70.5" stroke="#8e8e8e" stroke-width="1"/>
<line x1="63" y1="84.5" x2="70" y2="84.5" stroke="#8e8e8e" stroke-width="1"/>
<line x1="620" y1="84.5" x2="626" y2="84.5" stroke="#8e8e8e" stroke-width="1"/>
<line x1="63" y1="129.5" x2="70" y2="129.5" stroke="#8e8e8e" stroke-width="1"/>
<line x1="620" y1="129.5" x2="626" y2="129.5" stroke="#8e8e8e" stroke-width="1"/>
<line x1="63" y1="174.5" x2="70" y2="174.5" stroke="#8e8e8e" stroke-width="1"/>
<line x1="620" y1="174.5" x2="626" y2="174.5" stroke="#8e8e8e" stroke-width="1"/>
<line x1="63" y1="219.5" x2="70" y2="219.5" stroke="#8e8e8e" stroke-width="1"/>
<line x1="620" y1="219.5" x2="626" y2="219.5" stroke="#8e8e8e" stroke-width="1"/>
<line x1="63" y1="264.5" x2="70" y2="264.5" stroke="#8e8e8e" stroke-width="1"/>
<line x1="620" y1="264.5" x2="626" y2="264.5" stroke="#8e8e8e" stroke-width="1"/>
<line x1="63" y1="309.5" x2="70" y2="309.5" stroke="#8e8e8e" stroke-width="1"/>
<line x1="620" y1="309.5" x2="626" y2="309.5" stroke="#8e8e8e" stroke-width="1"/>
<line x1="63" y1="354.5" x2="70" y2="354.5" stroke="#8e8e8e" stroke-width="1"/>
<line x1="620" y1="354.5" x2="626" y2="354.5" stroke="#8e8e8e" stroke-width="1"/>
<line x1="63" y1="398.5" x2="70" y2="398.5" stroke="#8e8e8e" stroke-width="1"/>
<line x1="620" y1="398.5" x2="626" y2="398.5" stroke="#8e8e8e" stroke-width="1"/>
<line x1="63" y1="443.5" x2="70" y2="443.5" stroke="#8e8e8e" stroke-width="1"/>
<line x1="620" y1="443.5" x2="626" y2="443.5" stroke="#8e8e8e" stroke-width="1"/>
<line x1="63" y1="479.5" x2="70" y2="479.5" stroke="#8e8e8e" stroke-width="1"/>
<line x1="620" y1="479.5" x2="626" y2="479.5" stroke="#8e8e8e" stroke-width="1"/>
<rect x="63.5" y="57.5" width="562" height="458" fill="none" stroke="#b0b0b0" stroke-width="1"/>
<rect x="69.5" y="62.5" width="551" height="447" fill="none" stroke="#b0b0b0" stroke-width="1"/>
<line x1="63.5" y1="57.5" x2="69.5" y2="62.5" stroke="#666" stroke-width="1"/>
<line x1="625.5" y1="57.5" x2="620.5" y2="62.5" stroke="#666" stroke-width="1"/>
<line x1="63.5" y1="515.5" x2="69.5" y2="509.5" stroke="#666" stroke-width="1"/>
<line x1="625.5" y1="515.5" x2="620.5" y2="509.5" stroke="#666" stroke-width="1"/>
<line x1="63.5" y1="63" x2="63.5" y2="509" stroke="#000" stroke-opacity="0.3" stroke-width="1" stroke-dasharray="5.5 6.5" stroke-dashoffset="-2.20"/>
<rect x="63" y="51" width="2" height="6" fill="#000"/>
<rect x="63" y="516" width="2" height="5" fill="#000"/>
<rect x="171" y="51" width="2" height="6" fill="#000"/>
<rect x="171" y="516" width="2" height="5" fill="#000"/>
<rect x="279" y="51" width="2" height="6" fill="#000"/>
<rect x="279" y="516" width="2" height="5" fill="#000"/>
<rect x="387" y="51" width="2" height="6" fill="#000"/>
<rect x="387" y="516" width="2" height="5" fill="#000"/>
<rect x="495" y="51" width="2" height="6" fill="#000"/>
<rect x="495" y="516" width="2" height="5" fill="#000"/>
<rect x="603" y="51" width="2" height="6" fill="#000"/>
<rect x="603" y="516" width="2" height="5" fill="#000"/>
<rect x="58" y="83" width="5" height="2" fill="#000"/>
<rect x="626" y="83" width="5" height="2" fill="#000"/>
<rect x="58" y="173" width="5" height="2" fill="#000"/>
<rect x="626" y="173" width="5" height="2" fill="#000"/>
<rect x="58" y="263" width="5" height="2" fill="#000"/>
<rect x="626" y="263" width="5" height="2" fill="#000"/>
<rect x="58" y="353" width="5" height="2" fill="#000"/>
<rect x="626" y="353" width="5" height="2" fill="#000"/>
<rect x="58" y="442" width="5" height="2" fill="#000"/>
<rect x="626" y="442" width="5" height="2" fill="#000"/>
<text x="117.83" y="24.00" font-family="Liberation Sans, Arial, sans-serif" font-size="20.2" textLength="458.40" lengthAdjust="spacingAndGlyphs">MNTY Totals 25hr mean: From 26&#8211;Jun&#8211;2012 06:00</text>
<text x="188.70" y="46.80" font-family="Liberation Sans, Arial, sans-serif" font-size="20.2" textLength="311.60" lengthAdjust="spacingAndGlyphs">to 27&#8211;Jun&#8211;2012 06:00 GMT+0.000</text>
<text x="12.60" y="91.90" font-family="Liberation Sans, Arial, sans-serif" font-size="17.2" textLength="19.80" lengthAdjust="spacingAndGlyphs">37</text><text transform="translate(32.30,82.80) scale(1.3,1)" font-family="Liberation Sans, Arial, sans-serif" font-size="12">o</text><text x="39.70" y="91.90" font-family="Liberation Sans, Arial, sans-serif" font-size="17.2" textLength="13.40" lengthAdjust="spacingAndGlyphs">N</text>
<text x="37.40" y="178.90" font-family="Liberation Sans, Arial, sans-serif" font-size="14" textLength="19.20" lengthAdjust="spacingAndGlyphs">50&#8217;</text>
<text x="37.40" y="268.90" font-family="Liberation Sans, Arial, sans-serif" font-size="14" textLength="19.20" lengthAdjust="spacingAndGlyphs">40&#8217;</text>
<text x="37.40" y="358.90" font-family="Liberation Sans, Arial, sans-serif" font-size="14" textLength="19.20" lengthAdjust="spacingAndGlyphs">30&#8217;</text>
<text x="37.40" y="447.90" font-family="Liberation Sans, Arial, sans-serif" font-size="14" textLength="19.20" lengthAdjust="spacingAndGlyphs">20&#8217;</text>
<text x="37.20" y="541.90" font-family="Liberation Sans, Arial, sans-serif" font-size="17.2" textLength="29.70" lengthAdjust="spacingAndGlyphs">123</text><text transform="translate(66.20,532.80) scale(1.3,1)" font-family="Liberation Sans, Arial, sans-serif" font-size="12">o</text><text x="74.80" y="541.90" font-family="Liberation Sans, Arial, sans-serif" font-size="17.2" textLength="16.40" lengthAdjust="spacingAndGlyphs">W</text>
<text x="163.40" y="532.80" font-family="Liberation Sans, Arial, sans-serif" font-size="14" textLength="19.40" lengthAdjust="spacingAndGlyphs">45&#8217;</text>
<text x="271.40" y="532.80" font-family="Liberation Sans, Arial, sans-serif" font-size="14" textLength="19.40" lengthAdjust="spacingAndGlyphs">30&#8217;</text>
<text x="380.40" y="532.80" font-family="Liberation Sans, Arial, sans-serif" font-size="14" textLength="19.40" lengthAdjust="spacingAndGlyphs">15&#8217;</text>
<text x="595.50" y="532.80" font-family="Liberation Sans, Arial, sans-serif" font-size="14" textLength="19.40" lengthAdjust="spacingAndGlyphs">45&#8217;</text>
<text x="469.20" y="541.90" font-family="Liberation Sans, Arial, sans-serif" font-size="17.2" textLength="29.70" lengthAdjust="spacingAndGlyphs">122</text><text transform="translate(498.20,532.80) scale(1.3,1)" font-family="Liberation Sans, Arial, sans-serif" font-size="12">o</text><text x="506.80" y="541.90" font-family="Liberation Sans, Arial, sans-serif" font-size="17.2" textLength="16.40" lengthAdjust="spacingAndGlyphs">W</text>
<rect x="640.5" y="457.38" width="20.0" height="57.42" fill="#0000ff"/>
<rect x="640.5" y="400.25" width="20.0" height="57.42" fill="#0080ff"/>
<rect x="640.5" y="343.12" width="20.0" height="57.42" fill="#00ffff"/>
<rect x="640.5" y="286.00" width="20.0" height="57.42" fill="#80ff80"/>
<rect x="640.5" y="228.88" width="20.0" height="57.42" fill="#ffff00"/>
<rect x="640.5" y="171.75" width="20.0" height="57.42" fill="#ff8000"/>
<rect x="640.5" y="114.62" width="20.0" height="57.42" fill="#ff0000"/>
<rect x="640.5" y="57.50" width="20.0" height="57.42" fill="#800000"/>
<rect x="640.5" y="57.5" width="20.0" height="457.0" fill="none" stroke="#000" stroke-width="1"/>
<path d="M641 457.38H645.5M655.5 457.38H660" stroke="#4a4a4a" stroke-width="1"/>
<path d="M641 400.25H645.5M655.5 400.25H660" stroke="#4a4a4a" stroke-width="1"/>
<path d="M641 343.12H645.5M655.5 343.12H660" stroke="#4a4a4a" stroke-width="1"/>
<path d="M641 286.00H645.5M655.5 286.00H660" stroke="#4a4a4a" stroke-width="1"/>
<path d="M641 228.88H645.5M655.5 228.88H660" stroke="#4a4a4a" stroke-width="1"/>
<path d="M641 171.75H645.5M655.5 171.75H660" stroke="#4a4a4a" stroke-width="1"/>
<path d="M641 114.62H645.5M655.5 114.62H660" stroke="#4a4a4a" stroke-width="1"/>
<text x="663.00" y="519.50" font-family="Liberation Sans, Arial, sans-serif" font-size="14" font-weight="bold">0</text>
<text x="663.00" y="463.57" font-family="Liberation Sans, Arial, sans-serif" font-size="14" font-weight="bold" textLength="16.60" lengthAdjust="spacingAndGlyphs">10</text>
<text x="663.00" y="406.35" font-family="Liberation Sans, Arial, sans-serif" font-size="14" font-weight="bold" textLength="16.60" lengthAdjust="spacingAndGlyphs">20</text>
<text x="663.00" y="348.82" font-family="Liberation Sans, Arial, sans-serif" font-size="14" font-weight="bold" textLength="16.60" lengthAdjust="spacingAndGlyphs">30</text>
<text x="663.00" y="291.70" font-family="Liberation Sans, Arial, sans-serif" font-size="14" font-weight="bold" textLength="16.60" lengthAdjust="spacingAndGlyphs">40</text>
<text x="663.00" y="233.68" font-family="Liberation Sans, Arial, sans-serif" font-size="14" font-weight="bold" textLength="16.60" lengthAdjust="spacingAndGlyphs">50</text>
<text x="663.00" y="176.75" font-family="Liberation Sans, Arial, sans-serif" font-size="14" font-weight="bold" textLength="16.60" lengthAdjust="spacingAndGlyphs">60</text>
<text x="663.00" y="119.62" font-family="Liberation Sans, Arial, sans-serif" font-size="14" font-weight="bold" textLength="16.60" lengthAdjust="spacingAndGlyphs">70</text>
<text x="663.00" y="62.50" font-family="Liberation Sans, Arial, sans-serif" font-size="14" font-weight="bold" textLength="16.60" lengthAdjust="spacingAndGlyphs">80</text>
<text x="651.00" y="529.80" font-family="Liberation Sans, Arial, sans-serif" font-size="14" text-anchor="middle">cm/s</text>
<text transform="translate(694,439.8) rotate(-90)" font-family="Liberation Sans, Arial, sans-serif" font-size="14" textLength="310.5" lengthAdjust="spacingAndGlyphs">NOTE: Data outside color range will be saturated.</text>
</svg>
</body></html>
